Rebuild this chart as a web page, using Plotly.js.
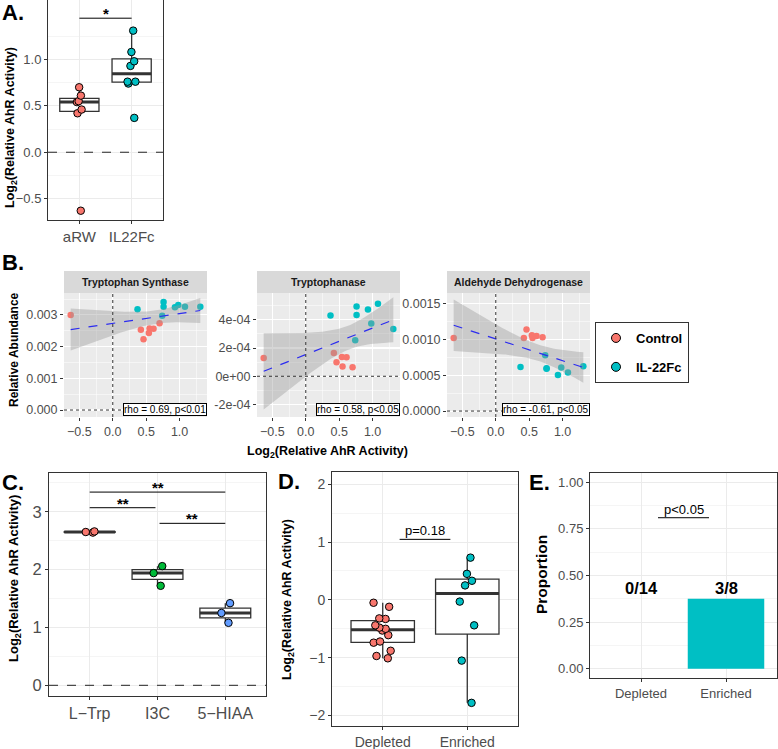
<!DOCTYPE html>
<html>
<head>
<meta charset="utf-8">
<script src="https://cdn.plot.ly/plotly-3.0.1.min.js"></script>
<style>
  body { margin: 0; background: #fff; }
  #chart { width: 778px; height: 749px; }
</style>
</head>
<body>
<div id="chart"></div>
<script>
// ---- values ----
// A: AhR activity, aRW (control) vs IL22Fc
let aCats = ["aRW", "IL22Fc"];
let ctrlAct = [-0.63, 0.42, 0.46, 0.54, 0.55, 0.61, 0.70];
let il22Act = [0.37, 0.74, 0.76, 0.76, 0.93, 0.98, 1.08, 1.31];

// B: relative abundance of each gene, same mice / same order as above
let facetNames = ["Tryptophan Synthase", "Tryptophanase", "Aldehyde Dehydrogenase"];
let ctrlTrpS = [0.00300, 0.00253, 0.00223, 0.00243, 0.00257, 0.00256, 0.00274];
let il22TrpS = [0.00318, 0.00297, 0.00341, 0.00326, 0.00324, 0.00331, 0.00326, 0.00326];
let ctrlTnaA = [1.29e-4, 1.65e-4, 1.00e-4, 1.36e-4, 0.70e-4, 1.34e-4, 0.64e-4];
let il22TnaA = [4.30e-4, 2.54e-4, 4.94e-4, 4.33e-4, 4.73e-4, 3.74e-4, 5.13e-4, 3.34e-4];
let ctrlAldh = [0.00102, 0.00102, 0.00114, 0.00106, 0.00102, 0.00105, 0.00103];
let il22Aldh = [0.000615, 0.00078, 0.00060, 0.00059, 0.000505, 0.00061, 0.00054, 0.000625];
let rhoLabels = ["rho = 0.69, p&lt;0.01", "rho = 0.58, p&lt;0.05", "rho = -0.61, p&lt;0.05"];
let groupNames = ["Control", "IL-22Fc"];

// C: tryptophan metabolites
let cCats = ["L\u2212Trp", "I3C", "5\u2212HIAA"];
let lTrp = [2.64, 2.65, 2.66];
let i3c = [2.06, 1.94, 1.72];
let hiaa = [1.42, 1.25, 1.08];
let cSigFrom = [1, 1, 2.03];
let cSigTo = [3, 1.97, 3];
let cSigY = [3.34, 3.07, 2.80];

// D: depleted vs enriched
let dCats = ["Depleted", "Enriched"];
let depleted = [-0.05, -0.12, -0.32, -0.33, -0.44, -0.48, -0.50, -0.53, -0.61, -0.72, -0.74, -0.88, -0.97, -1.01];
let enriched = [0.73, 0.45, 0.33, 0.25, -0.03, -0.44, -1.05, -1.78];

// E: proportion
let eCounts = [0, 3];
let eTotals = [14, 8];

// ---- helpers ----
const W = 778, H = 749;
const FONT = "Liberation Sans, Arial, Helvetica, sans-serif";
const RED = "#F8766D", TEAL = "#00BFC4", GREEN = "#00BA38", BLUE = "#619CFF";

// panel boxes in pixels: [left, right, top, bottom]
const boxA = [48, 163, 0, 220];
const boxB = [[64, 207, 293, 417], [257, 400, 293, 417], [447, 590, 293, 417]];
const boxC = [49, 266, 473, 696];
const boxD = [332, 518, 472, 726];
const boxE = [590, 777, 473, 678];
const bXRange = [-0.73, 1.41];
const bYRanges = [[-0.00022, 0.00369], [-2.88e-4, 5.89e-4], [-0.000083, 0.00165]];
const aXRange = [0.4, 2.6], cXRange = [0.4, 3.6];

function xd(b) { return [b[0] / W, b[1] / W]; }
function yd(b) { return [1 - b[3] / H, 1 - b[2] / H]; }

// R type 7 quantile, like ggplot's boxplot
function quantile(arr, p) {
  let s = arr.slice().sort((a, b) => a - b);
  let h = (s.length - 1) * p;
  let lo = Math.floor(h);
  let nxt = lo + 1 < s.length ? s[lo + 1] : s[lo];
  return s[lo] + (h - lo) * (nxt - s[lo]);
}

function boxStats(vals) {
  let q1 = quantile(vals, 0.25), med = quantile(vals, 0.5), q3 = quantile(vals, 0.75);
  let iqr = q3 - q1;
  let inside = vals.filter(v => v >= q1 - 1.5 * iqr && v <= q3 + 1.5 * iqr);
  return { q1: q1, med: med, q3: q3, lo: Math.min(...inside), hi: Math.max(...inside) };
}

function boxTraces(vals, pos, color, ax, jitterW) {
  let st = boxStats(vals);
  let xa = "x" + ax, ya = "y" + ax;
  let common = { type: "box", xaxis: xa, yaxis: ya, showlegend: false, hoverinfo: "skip", whiskerwidth: 0 };
  return [
    Object.assign({}, common, {
      x: [pos], q1: [st.q1], median: [st.med], q3: [st.q3],
      lowerfence: [st.lo], upperfence: [st.hi], width: 0.75,
      fillcolor: "white", line: { color: "#333", width: 1.3 }, boxpoints: false
    }),
    // thick median bar
    Object.assign({}, common, {
      x: [pos], q1: [st.med], median: [st.med], q3: [st.med],
      lowerfence: [st.med], upperfence: [st.med], width: 0.75,
      fillcolor: "rgba(0,0,0,0)", line: { color: "#333", width: 3 }, boxpoints: false
    }),
    // jittered points
    Object.assign({}, common, {
      x: vals.map(() => pos), y: vals, width: jitterW || 0.22,
      boxpoints: "all", jitter: 1, pointpos: 0,
      fillcolor: "rgba(0,0,0,0)", line: { width: 0 },
      marker: { color: color, size: 7.5, line: { color: "black", width: 1 } }
    })
  ];
}

// linear fit with 95% band (what geom_smooth(method = "lm") draws)
function lmBand(xs, ys) {
  let n = xs.length;
  let mx = xs.reduce((a, b) => a + b, 0) / n;
  let my = ys.reduce((a, b) => a + b, 0) / n;
  let sxx = 0, sxy = 0;
  for (let i = 0; i < n; i++) {
    sxx += (xs[i] - mx) ** 2;
    sxy += (xs[i] - mx) * (ys[i] - my);
  }
  let b = sxy / sxx, a = my - b * mx;
  let sse = 0;
  for (let i = 0; i < n; i++) sse += (ys[i] - a - b * xs[i]) ** 2;
  let s = Math.sqrt(sse / (n - 2));
  let t = 2.160; // qt(0.975, 13)
  let x0 = Math.min(...xs), x1 = Math.max(...xs);
  let gx = [], fit = [], lo = [], hi = [];
  for (let k = 0; k <= 80; k++) {
    let x = x0 + (x1 - x0) * k / 80;
    let y = a + b * x;
    let se = s * Math.sqrt(1 / n + (x - mx) ** 2 / sxx);
    gx.push(x); fit.push(y); lo.push(y - t * se); hi.push(y + t * se);
  }
  return { x: gx, fit: fit, lo: lo, hi: hi };
}

function facetTraces(k, yc, yi) {
  let xa = "x" + (k + 2), ya = "y" + (k + 2);
  let band = lmBand(ctrlAct.concat(il22Act), yc.concat(yi));
  let base = { type: "scatter", xaxis: xa, yaxis: ya, showlegend: false, hoverinfo: "skip" };
  return [
    Object.assign({}, base, { x: ctrlAct, y: yc, mode: "markers", marker: { color: RED, size: 6.5 } }),
    Object.assign({}, base, { x: il22Act, y: yi, mode: "markers", marker: { color: TEAL, size: 6.5 } }),
    Object.assign({}, base, { x: band.x, y: band.lo, mode: "lines", line: { width: 0 } }),
    Object.assign({}, base, { x: band.x, y: band.hi, mode: "lines", line: { width: 0 },
      fill: "tonexty", fillcolor: "rgba(153,153,153,0.4)" }),
    Object.assign({}, base, { x: band.x, y: band.fit, mode: "lines",
      line: { color: "#2B2BF0", width: 1.2, dash: "dash" } })
  ];
}

// ---- traces ----
let data = [];
data = data.concat(boxTraces(ctrlAct, 1, RED, ""));
data = data.concat(boxTraces(il22Act, 2, TEAL, ""));

data = data.concat(facetTraces(0, ctrlTrpS, il22TrpS));
data = data.concat(facetTraces(1, ctrlTnaA, il22TnaA));
data = data.concat(facetTraces(2, ctrlAldh, il22Aldh));

// legend-only entries
[RED, TEAL].forEach((c, i) => {
  data.push({ type: "scatter", x: [null], y: [null], mode: "markers", name: groupNames[i],
    legendgroup: "g" + i, xaxis: "x2", yaxis: "y2",
    marker: { color: c, size: 9, line: { color: "black", width: 1 } } });
});

data = data.concat(boxTraces(lTrp, 1, RED, "5", 0.18));
data = data.concat(boxTraces(i3c, 2, GREEN, "5", 0.18));
data = data.concat(boxTraces(hiaa, 3, BLUE, "5", 0.18));

data = data.concat(boxTraces(depleted, 1, RED, "6", 0.26));
data = data.concat(boxTraces(enriched, 2, TEAL, "6", 0.26));

data.push({
  type: "bar", x: [1, 2], y: eCounts.map((c, i) => c / eTotals[i]), width: 0.9,
  marker: { color: TEAL }, xaxis: "x7", yaxis: "y7", showlegend: false, hoverinfo: "skip"
});

// ---- axes ----
const tickGray = "#4D4D4D";
function bwAxis(extra) {
  return Object.assign({
    showline: true, mirror: true, linecolor: "#333", linewidth: 1,
    ticks: "outside", ticklen: 3, tickcolor: "#333", tickwidth: 1,
    showgrid: true, gridcolor: "#EBEBEB", gridwidth: 1, zeroline: false,
    fixedrange: true
  }, extra);
}
function grayAxis(extra) {
  return Object.assign({
    showline: false, ticks: "outside", ticklen: 3, tickcolor: "#333", tickwidth: 1,
    showgrid: true, gridcolor: "white", gridwidth: 1.1, zeroline: false, fixedrange: true,
    tickfont: { family: FONT, size: 12.5, color: tickGray }
  }, extra);
}
function minor(step, color) {
  return { tickmode: "linear", tick0: 0, dtick: step, showgrid: true, gridwidth: 0.5, gridcolor: color };
}

let layout = {
  width: W, height: H,
  margin: { l: 0, r: 0, t: 0, b: 0 },
  paper_bgcolor: "white", plot_bgcolor: "rgba(0,0,0,0)",
  font: { family: FONT, color: "black" },
  showlegend: true,
  legend: {
    x: 595 / W, y: 1 - 322 / H, xanchor: "left", yanchor: "top", traceorder: "grouped",
    tracegroupgap: 9, itemwidth: 30,
    bordercolor: "#333", borderwidth: 1, bgcolor: "white",
    font: { family: FONT, size: 13, color: "black", weight: "bold" }
  },
  boxmode: "overlay",

  // A (top of the panel is cut off by the page edge)
  xaxis: bwAxis({ domain: xd(boxA), anchor: "y", range: aXRange, mirror: false,
    tickvals: [1, 2], ticktext: aCats, tickfont: { family: FONT, size: 15, color: tickGray } }),
  yaxis: bwAxis({ domain: yd(boxA), anchor: "x", range: [-0.73, 1.64],
    tickmode: "array", tickvals: [-0.5, 0, 0.5, 1], ticktext: ["\u22120.5", "0.0", "0.5", "1.0"],
    minor: { tickmode: "array", tickvals: [-0.25, 0.25, 0.75, 1.25], showgrid: true, gridwidth: 0.5, gridcolor: "#EBEBEB" },
    tickfont: { family: FONT, size: 13, color: tickGray } }),

  // C
  xaxis5: bwAxis({ domain: xd(boxC), anchor: "y5", range: cXRange,
    tickvals: [1, 2, 3], ticktext: cCats, tickfont: { family: FONT, size: 16, color: tickGray } }),
  yaxis5: bwAxis({ domain: yd(boxC), anchor: "x5", range: [-0.185, 3.67], tick0: 0, dtick: 1,
    minor: minor(0.5, "#EBEBEB"), tickfont: { family: FONT, size: 16.5, color: tickGray } }),

  // D
  xaxis6: bwAxis({ domain: xd(boxD), anchor: "y6", range: aXRange,
    tickvals: [1, 2], ticktext: dCats, tickfont: { family: FONT, size: 14, color: tickGray } }),
  yaxis6: bwAxis({ domain: yd(boxD), anchor: "x6", range: [-2.18, 2.21], tick0: 0, dtick: 1,
    minor: minor(0.5, "#EBEBEB"), tickfont: { family: FONT, size: 14, color: tickGray } }),

  // E
  xaxis7: bwAxis({ domain: xd(boxE), anchor: "y7", range: aXRange,
    tickvals: [1, 2], ticktext: dCats, tickfont: { family: FONT, size: 13, color: tickGray } }),
  yaxis7: bwAxis({ domain: yd(boxE), anchor: "x7", range: [-0.05, 1.05], tick0: 0, dtick: 0.25,
    tickformat: ".2f", minor: minor(0.125, "#EBEBEB"), tickfont: { family: FONT, size: 13, color: tickGray } }),

  shapes: [],
  annotations: []
};

// B facet axes
const bYTicks = [
  { tick0: 0, dtick: 0.001, tickformat: ".3f", minor: minor(0.0005, "white") },
  { tickmode: "array", tickvals: [-2e-4, 0, 2e-4, 4e-4], ticktext: ["-2e-04", "0e+00", "2e-04", "4e-04"],
    minor: minor(1e-4, "white") },
  { tick0: 0, dtick: 0.0005, tickformat: ".4f", minor: minor(0.00025, "white") }
];
facetNames.forEach((name, k) => {
  let ax = String(k + 2);
  layout["xaxis" + ax] = grayAxis({ domain: xd(boxB[k]), anchor: "y" + ax, range: bXRange,
    tick0: 0, dtick: 0.5, tickformat: ".1f", minor: minor(0.25, "white") });
  layout["yaxis" + ax] = grayAxis(Object.assign({ domain: yd(boxB[k]), anchor: "x" + ax, range: bYRanges[k] }, bYTicks[k]));

  let b = boxB[k];
  // grey panel and strip (paper coordinates, under the grid)
  layout.shapes.push({ type: "rect", xref: "paper", yref: "paper",
    x0: b[0] / W, x1: b[1] / W, y0: 1 - b[3] / H, y1: 1 - b[2] / H,
    fillcolor: "#EBEBEB", line: { width: 0 }, layer: "below" });
  layout.shapes.push({ type: "rect", xref: "paper", yref: "paper",
    x0: b[0] / W, x1: b[1] / W, y0: 1 - b[2] / H, y1: 1 - 271 / H,
    fillcolor: "#D9D9D9", line: { width: 0 }, layer: "below" });
  // dotted zero lines
  layout.shapes.push({ type: "line", xref: "x" + ax, yref: "y" + ax,
    x0: 0, x1: 0, y0: bYRanges[k][0], y1: bYRanges[k][1], line: { color: "#333", width: 1, dash: "dot" } });
  layout.shapes.push({ type: "line", xref: "x" + ax, yref: "y" + ax,
    x0: bXRange[0], x1: bXRange[1], y0: 0, y1: 0, line: { color: "#333", width: 1, dash: "dot" } });
  layout.annotations.push({ xref: "paper", yref: "paper", x: (b[0] + b[1]) / 2 / W, y: 1 - 282 / H,
    xanchor: "center", yanchor: "middle",
    text: "<b>" + name + "</b>", showarrow: false, font: { family: FONT, size: 10.5, color: "#1A1A1A" } });
  layout.annotations.push({ xref: "paper", yref: "paper", x: (b[1] - 0.5) / W, y: 1 - (b[3] - 1) / H,
    xanchor: "right", yanchor: "bottom", text: rhoLabels[k], showarrow: false,
    bgcolor: "white", bordercolor: "black", borderwidth: 1, borderpad: 0,
    font: { family: FONT, size: 10, color: "black" } });
});

// dashed zero lines for A and C
layout.shapes.push({ type: "line", xref: "x", yref: "y", x0: aXRange[0], x1: aXRange[1], y0: 0, y1: 0,
  line: { color: "#222", width: 1, dash: "dash" } });
layout.shapes.push({ type: "line", xref: "x5", yref: "y5", x0: cXRange[0], x1: cXRange[1], y0: 0, y1: 0,
  line: { color: "#222", width: 1, dash: "dash" } });

// significance bars
function sigBar(xa, ya, x0, x1, y, label, size, bold) {
  layout.shapes.push({ type: "line", xref: xa, yref: ya, x0: x0, x1: x1, y0: y, y1: y,
    line: { color: "black", width: 1 } });
  layout.annotations.push({ xref: xa, yref: ya, x: (x0 + x1) / 2, y: y, xanchor: "center", yanchor: "bottom",
    text: bold ? "<b>" + label + "</b>" : label, showarrow: false, yshift: bold ? -6 : -1,
    font: { family: FONT, size: size, color: "black" } });
}
sigBar("x", "y", 1, 2, 1.444, "*", 15, true);
cSigY.forEach((y, i) => sigBar("x5", "y5", cSigFrom[i], cSigTo[i], y, "**", 15, true));
sigBar("x6", "y6", 1.2, 1.8, 1.046, "p=0.18", 13, false);
sigBar("x7", "y7", 1.2, 1.8, 0.81, "p&lt;0.05", 13, false);

// E count labels
eCounts.forEach((c, i) => {
  layout.annotations.push({ xref: "x7", yref: "y7", x: i + 1, y: 0.433, xanchor: "center", yanchor: "middle",
    text: "<b>" + c + "/" + eTotals[i] + "</b>", showarrow: false,
    font: { family: FONT, size: 16.5, color: "black" } });
});

// titles and panel letters
function txt(text, xpx, ypx, size, extra) {
  layout.annotations.push(Object.assign({
    xref: "paper", yref: "paper", x: xpx / W, y: 1 - ypx / H, text: text, showarrow: false,
    xanchor: "center", yanchor: "middle",
    font: { family: FONT, size: size, color: "black" }
  }, extra || {}));
}
const ahr = "<b>Log<sub>2</sub>(Relative AhR Activity)</b>";
txt(ahr, 11, 128, 12.5, { textangle: -90 });
txt("<b>Relative Abundance</b>", 14, 350, 12, { textangle: -90 });
txt(ahr, 327, 452, 12.5);
txt(ahr, 14, 579, 13, { textangle: -90 });
txt(ahr, 288, 600, 12.5, { textangle: -90 });
txt("<b>Proportion</b>", 541, 575, 15.5, { textangle: -90 });

txt("<b>A.</b>", 0, 12.5, 22, { xanchor: "left" });
txt("<b>B.</b>", 0, 262.5, 22, { xanchor: "left" });
txt("<b>C.</b>", 0, 482.5, 22, { xanchor: "left" });
txt("<b>D.</b>", 276, 481, 22, { xanchor: "left" });
txt("<b>E.</b>", 527, 482.5, 22, { xanchor: "left" });

Plotly.newPlot("chart", data, layout, { staticPlot: true });
</script>
</body>
</html>
